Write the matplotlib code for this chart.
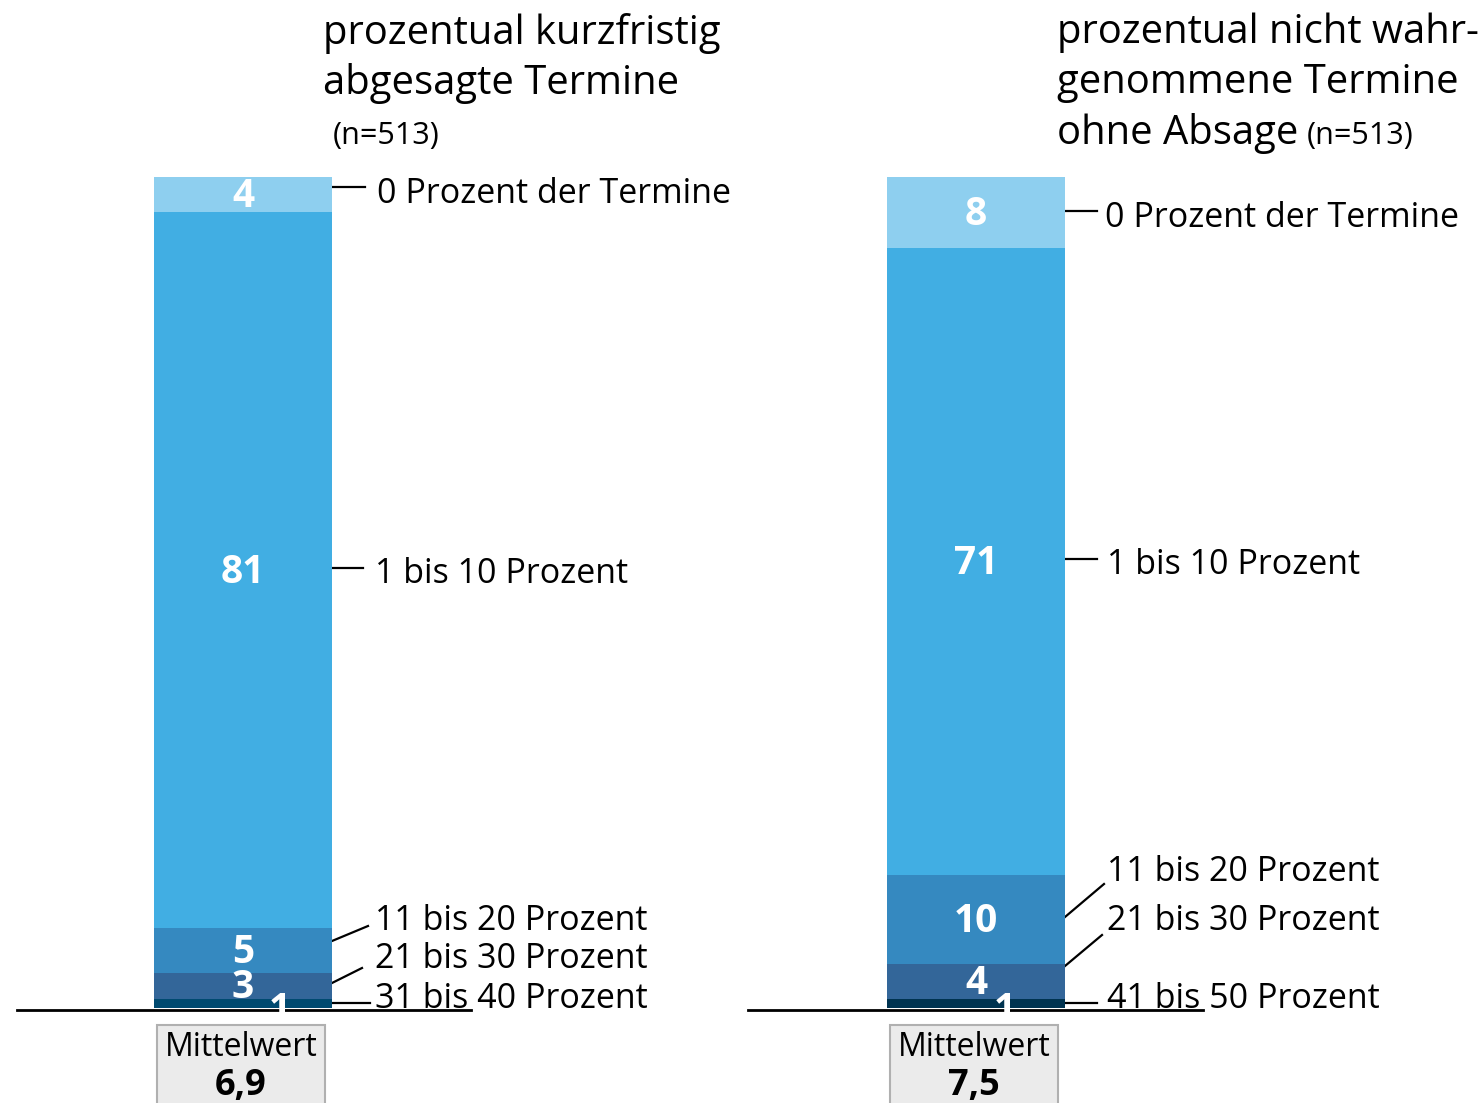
import matplotlib
matplotlib.use("Agg")
import matplotlib.pyplot as plt
from matplotlib.patches import Rectangle
from matplotlib import font_manager
import numpy as np

names = {f.name for f in font_manager.fontManager.ttflist}
fam = 'Open Sans' if 'Open Sans' in names else 'Noto Sans'
plt.rcParams['font.family'] = [fam, 'DejaVu Sans']

# ---- data ----
left_values = [1, 3, 5, 81, 4]          # bottom -> top
left_labels = ["31 bis 40 Prozent", "21 bis 30 Prozent", "11 bis 20 Prozent",
               "1 bis 10 Prozent", "0 Prozent der Termine"]
right_values = [1, 4, 10, 71, 8]
right_labels = ["41 bis 50 Prozent", "21 bis 30 Prozent", "11 bis 20 Prozent",
                "1 bis 10 Prozent", "0 Prozent der Termine"]
left_colors = ["#004a70", "#336699", "#3589c0", "#41aee3", "#8ecfef"]
right_colors = ["#003350", "#336699", "#3589c0", "#41aee3", "#8ecfef"]
left_title = ["prozentual kurzfristig", "abgesagte Termine"]
right_title = ["prozentual nicht wahr-", "genommene Termine", "ohne Absage"]
n_text = "(n=513)"
means = ["6,9", "7,5"]

W, H = 1481, 1103
fig = plt.figure(figsize=(W / 100, H / 100), dpi=100)

ov = fig.add_axes([0, 0, 1, 1], zorder=0)
ov.set_xlim(0, W)
ov.set_ylim(H, 0)
ov.axis('off')

y_bot_px, y_top_px = 1008, 177
ax = fig.add_axes([0, (H - y_bot_px) / H, 1, (y_bot_px - y_top_px) / H], zorder=1)
ax.patch.set_alpha(0)
ax.axis('off')
ax.set_xlim(0, W)
total = sum(left_values)
ax.set_ylim(0, total)

centers = [243, 976]
small_offsets = [37, 29]
bw = 178
fs_lab = 24.5
fs_val = 28
dy = 3

for cx, off, vals, cols in [(centers[0], small_offsets[0], left_values, left_colors),
                            (centers[1], small_offsets[1], right_values, right_colors)]:
    bottoms = np.concatenate([[0], np.cumsum(vals)[:-1]])
    ax.bar([cx] * len(vals), vals, bottom=bottoms, width=bw, color=cols,
           linewidth=0, align='center')
    for i, (v, b) in enumerate(zip(vals, bottoms)):
        if i == 0:
            ax.text(cx + off, b + v / 2 - 0.8, str(v), color='white', fontsize=fs_val,
                    fontweight='bold', ha='center', va='center', zorder=5, clip_on=False)
        else:
            ax.text(cx, b + v / 2 - 0.2, str(v), color='white', fontsize=fs_val,
                    fontweight='bold', ha='center', va='center', zorder=5)

ov.plot([17, 471], [1010, 1010], color='black', lw=2)
ov.plot([748, 1203], [1010, 1010], color='black', lw=2)

lk = dict(color='black', lw=1.6)
def lab(x, y, s):
    ov.text(x, y + dy, s, fontsize=fs_lab, va='center', ha='left')

ov.plot([332, 365], [187, 187], **lk); lab(377, 191, left_labels[4])
ov.plot([332, 363], [568, 568], **lk); lab(375, 571, left_labels[3])
ov.plot([332, 368], [941, 926], **lk); lab(375, 918, left_labels[2])
ov.plot([332, 362], [983, 968], **lk); lab(375, 956, left_labels[1])
ov.plot([332, 370], [1003, 1003], **lk); lab(375, 996, left_labels[0])

ov.plot([1065, 1097], [211, 211], **lk); lab(1105, 215, right_labels[4])
ov.plot([1065, 1097], [559, 559], **lk); lab(1107, 562, right_labels[3])
ov.plot([1065, 1104], [917, 884], **lk); lab(1107, 869, right_labels[2])
ov.plot([1065, 1102], [966, 935], **lk); lab(1107, 918, right_labels[1])
ov.plot([1065, 1097], [1003, 1003], **lk); lab(1107, 996, right_labels[0])

fs_t = 28.8
ov.text(323, 30 + dy, left_title[0], fontsize=fs_t, va='center', ha='left')
ov.text(323, 80 + dy, left_title[1], fontsize=fs_t, va='center', ha='left')
ov.text(333, 133 + dy, n_text, fontsize=22, va='center', ha='left')
ov.text(1057, 30 + dy, right_title[0], fontsize=fs_t, va='center', ha='left')
ov.text(1057, 80 + dy, right_title[1], fontsize=fs_t, va='center', ha='left')
ov.text(1057, 131 + dy, right_title[2], fontsize=fs_t, va='center', ha='left')
ov.text(1307, 133 + dy, n_text, fontsize=22, va='center', ha='left')

for bx, m in zip([157, 890], means):
    ov.add_patch(Rectangle((bx, 1025), 168, 95, facecolor='#ebebeb',
                           edgecolor='#b0b0b0', lw=1.5, clip_on=False))
    ov.text(bx + 84, 1044 + dy, "Mittelwert", fontsize=23, ha='center', va='center')
    ov.text(bx + 84, 1083 + dy, m, fontsize=26, fontweight='bold', ha='center', va='center')

fig.savefig("out.png", dpi=100)
